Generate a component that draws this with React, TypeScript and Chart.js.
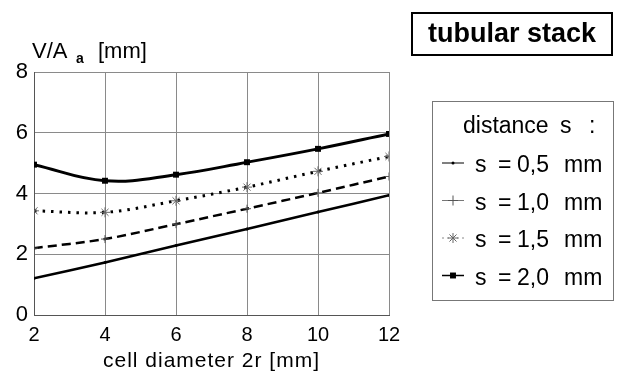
import React, { useEffect, useRef } from 'react';
import { Chart, registerables } from 'chart.js';

Chart.register(...registerables);

// ---- data ----
const xValues = [2, 4, 6, 8, 10, 12];
const s05 = [1.21, 1.73, 2.29, 2.83, 3.39, 3.94];
const s10 = [2.2, 2.5, 2.99, 3.5, 4.02, 4.56];
const s15 = [3.43, 3.38, 3.76, 4.21, 4.73, 5.22];
const s20 = [4.95, 4.42, 4.62, 5.03, 5.47, 5.96];
const seriesValues = ['0,5', '1,0', '1,5', '2,0'];
const xTickStep = 2;
const yTickStep = 2;
const yMin = 0;
const yMax = 8;
const chartTitle = 'tubular stack';
const xAxisTitle = 'cell diameter 2r [mm]';
const yTitleMain = 'V/A';
const yTitleSub = 'a';
const yTitleUnit = '[mm]';
const legendTitle = ['distance', 's', ':'];

const FONT = '"Liberation Sans", Arial, Helvetica, sans-serif';

function drawMarker(ctx: CanvasRenderingContext2D, style: string, x: number, y: number, r: number, color: string) {
  ctx.save();
  ctx.strokeStyle = color;
  ctx.fillStyle = color;
  ctx.lineWidth = 1;
  ctx.beginPath();
  if (style === 'circle') {
    ctx.arc(x, y, r, 0, Math.PI * 2);
    ctx.fill();
  } else if (style === 'rect') {
    const s = r * Math.SQRT1_2;
    ctx.fillRect(x - s, y - s, 2 * s, 2 * s);
  } else if (style === 'cross') {
    ctx.moveTo(x - r, y); ctx.lineTo(x + r, y);
    ctx.moveTo(x, y - r); ctx.lineTo(x, y + r);
    ctx.stroke();
  } else if (style === 'star') {
    ctx.moveTo(x - r, y); ctx.lineTo(x + r, y);
    ctx.moveTo(x, y - r); ctx.lineTo(x, y + r);
    const d = r * Math.SQRT1_2;
    ctx.moveTo(x - d, y - d); ctx.lineTo(x + d, y + d);
    ctx.moveTo(x - d, y + d); ctx.lineTo(x + d, y - d);
    ctx.stroke();
  }
  ctx.restore();
}

const overlayPlugin = {
  id: 'overlay',
  afterDraw(chart: any) {
    const ctx: CanvasRenderingContext2D = chart.ctx;
    const area = chart.chartArea;
    ctx.save();
    ctx.fillStyle = '#000';
    ctx.textBaseline = 'alphabetic';
    ctx.textAlign = 'left';

    // y-axis title
    ctx.font = `22px ${FONT}`;
    ctx.fillText(yTitleMain, 32, 58);
    ctx.font = `bold 14px ${FONT}`;
    ctx.fillText(yTitleSub, 76, 63);
    ctx.font = `22px ${FONT}`;
    ctx.fillText(yTitleUnit, 98, 58);

    // x-axis title
    ctx.font = `21px ${FONT}`;
    (ctx as any).letterSpacing = '1px';
    ctx.textAlign = 'center';
    ctx.fillText(xAxisTitle, (area.left + area.right) / 2, 367);
    (ctx as any).letterSpacing = '0px';

    // title box
    ctx.strokeStyle = '#000';
    ctx.lineWidth = 2;
    ctx.strokeRect(412, 13, 200, 42);
    ctx.font = `bold 27px ${FONT}`;
    ctx.textAlign = 'center';
    ctx.fillText(chartTitle, 512, 42);

    // legend box
    ctx.strokeStyle = '#777';
    ctx.lineWidth = 1;
    ctx.strokeRect(432.5, 101.5, 181, 199);
    ctx.textAlign = 'left';
    ctx.font = `23px ${FONT}`;
    ctx.fillText(legendTitle[0], 463, 133);
    ctx.fillText(legendTitle[1], 560, 133);
    ctx.fillText(legendTitle[2], 589, 133);

    const datasets = chart.data.datasets;
    const order = [0, 1, 2, 3];
    order.forEach((di, row) => {
      const ds = datasets[di];
      const cy = 163 + row * 37.5;
      const base = cy + 9;
      ctx.save();
      ctx.strokeStyle = ds.legendLineColor;
      ctx.lineWidth = ds.legendLineWidth;
      ctx.setLineDash(ds.legendDash);
      ctx.beginPath();
      ctx.moveTo(442, cy);
      ctx.lineTo(464, cy);
      ctx.stroke();
      ctx.restore();
      drawMarker(ctx, ds.pointStyle, 453, cy, ds.legendMarkerR, ds.pointBorderColor);
      ctx.fillStyle = '#000';
      ctx.font = `23px ${FONT}`;
      ctx.fillText('s', 475, base);
      ctx.fillText('=', 498, base);
      ctx.fillText(seriesValues[di], 517, base);
      ctx.fillText('mm', 564, base);
    });
    ctx.restore();
  },
};

function toPoints(ys: number[]) {
  return xValues.map((x, i) => ({ x, y: ys[i] }));
}

export default function App() {
  const ref = useRef<HTMLCanvasElement | null>(null);
  useEffect(() => {
    document.body.style.margin = '0';
    const canvas = ref.current;
    if (!canvas) return;
    const chart = new Chart(canvas, {
      type: 'line',
      data: {
        datasets: [
          {
            label: 's = 0,5 mm',
            data: toPoints(s05),
            borderColor: '#000',
            borderWidth: 2.5,
            pointStyle: 'circle',
            pointRadius: 1.5,
            pointBackgroundColor: '#000',
            pointBorderColor: '#000',
            pointBorderWidth: 0,
            tension: 0.3,
            legendLineColor: '#000',
            legendLineWidth: 1,
            legendDash: [],
            legendMarkerR: 1.5,
          } as any,
          {
            label: 's = 1,0 mm',
            data: toPoints(s10),
            borderColor: '#000',
            borderWidth: 2.5,
            borderDash: [9, 5],
            pointStyle: 'cross',
            pointRadius: 4,
            pointBorderColor: '#555',
            pointBorderWidth: 1,
            tension: 0.3,
            legendLineColor: '#777',
            legendLineWidth: 1,
            legendDash: [],
            legendMarkerR: 5,
          } as any,
          {
            label: 's = 1,5 mm',
            data: toPoints(s15),
            borderColor: '#000',
            borderWidth: 3,
            borderDash: [2.5, 6],
            pointStyle: 'star',
            pointRadius: 5,
            pointBorderColor: '#666',
            pointBorderWidth: 1,
            tension: 0.35,
            legendLineColor: '#888',
            legendLineWidth: 1,
            legendDash: [2, 3],
            legendMarkerR: 5,
          } as any,
          {
            label: 's = 2,0 mm',
            data: toPoints(s20),
            borderColor: '#000',
            borderWidth: 3,
            pointStyle: 'rect',
            pointRadius: 4.2,
            pointBackgroundColor: '#000',
            pointBorderColor: '#000',
            pointBorderWidth: 0,
            tension: 0.4,
            legendLineColor: '#000',
            legendLineWidth: 1.5,
            legendDash: [],
            legendMarkerR: 4.2,
          } as any,
        ],
      },
      options: {
        responsive: false,
        animation: false,
        layout: { padding: { top: 72, right: 235, left: 0, bottom: 0 } },
        plugins: {
          legend: { display: false },
          tooltip: { enabled: false },
          title: { display: false },
        },
        scales: {
          x: {
            type: 'linear',
            min: xValues[0],
            max: xValues[xValues.length - 1],
            ticks: {
              stepSize: xTickStep,
              color: '#000',
              font: { family: FONT, size: 20 },
              padding: 8,
            },
            grid: { color: '#8a8a8a', lineWidth: 1, drawTicks: false },
            border: { color: '#555', width: 1 },
            afterFit: (scale: any) => { scale.height = 63; },
          },
          y: {
            min: yMin,
            max: yMax,
            ticks: {
              stepSize: yTickStep,
              color: '#000',
              font: { family: FONT, size: 22 },
              padding: 6,
            },
            grid: { color: '#8a8a8a', lineWidth: 1, drawTicks: false },
            border: { color: '#555', width: 1 },
            afterFit: (scale: any) => { scale.width = 34; },
          },
        },
      } as any,
      plugins: [overlayPlugin],
    });
    return () => chart.destroy();
  }, []);
  return <canvas ref={ref} width={624} height={378} style={{ display: 'block' }} />;
}
